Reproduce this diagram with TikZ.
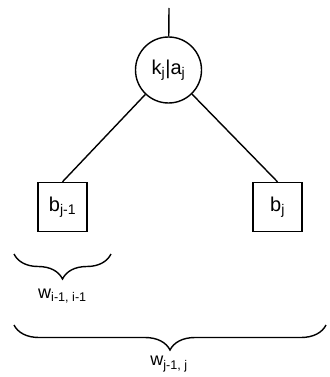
\documentclass[tikz,border=0pt]{standalone}
\usepackage{fontspec}
\setmainfont{Liberation Sans}
\usetikzlibrary{decorations.pathreplacing}
\begin{document}
\begin{tikzpicture}[x=1pt,y=-1pt,line width=1.4pt,
  nodetext/.style={font=\fontsize{20}{24}\selectfont},
  roundnode/.style={draw,circle,minimum size=66pt,inner sep=0pt,nodetext},
  boxnode/.style={draw,rectangle,minimum size=49pt,inner sep=0pt,nodetext},
  bracestyle/.style={decorate,decoration={brace,mirror,amplitude=25pt}},
  labeltext/.style={font=\fontsize{18}{22}\selectfont}]
\useasboundingbox (0,0) rectangle (329,377);
\coordinate (top) at (169,8);
\node[roundnode] (root) at (168.5,70) {k\textsubscript{j}|a\textsubscript{j}};
\node[boxnode] (left) at (62.5,207) {b\textsubscript{j-1}};
\node[boxnode] (right) at (277.5,207) {b\textsubscript{j}};
\draw (top) -- (root);
\draw (root) -- (left.north);
\draw (root) -- (right.north);
\coordinate (sa) at (14,254);
\coordinate (sb) at (111,254);
\coordinate (ba) at (14,325);
\coordinate (bb) at (326,325);
\draw[bracestyle] (sa) -- (sb);
\draw[bracestyle] (ba) -- (bb);
\node[labeltext] (wsmall) at (62.5,296) {w\textsubscript{i-1, i-1}};
\node[labeltext] (wbig) at (169,364) {w\textsubscript{j-1, j}};
\end{tikzpicture}
\end{document}
